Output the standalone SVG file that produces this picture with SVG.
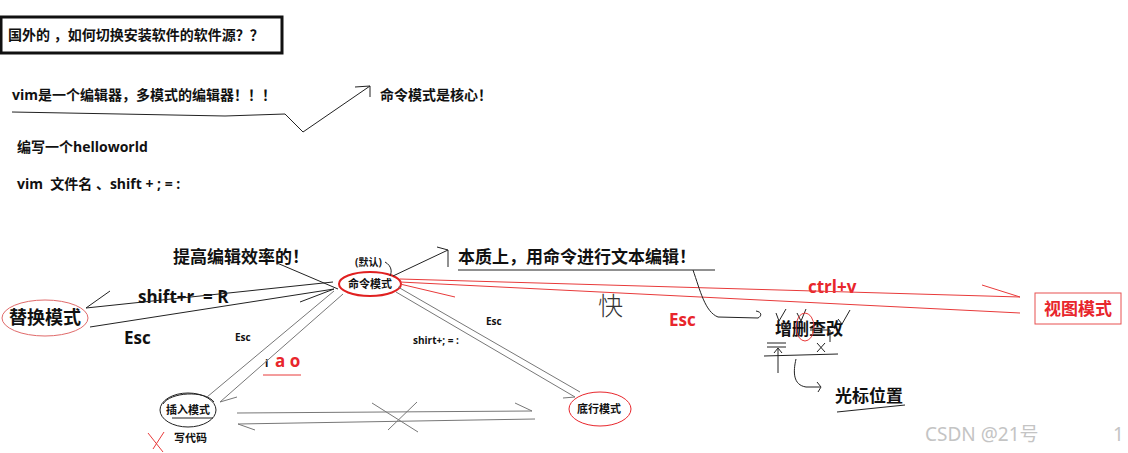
<svg xmlns="http://www.w3.org/2000/svg" width="1128" height="453" viewBox="0 0 1128 453">
<style>
.t{font-family:"Open Sans","Noto Sans CJK SC",sans-serif;font-weight:bold;fill:#111;white-space:pre}
.s{font-size:14px}
.m{font-size:17px}
.x{font-size:11px}
.r{fill:#e8262c}
.ln{fill:none;stroke:#222;stroke-width:1}
.g{fill:none;stroke:#777;stroke-width:1}
.rl{fill:none;stroke:#e83a3a;stroke-width:1}
.wm{font-family:"Noto Sans","Noto Sans CJK SC",sans-serif;font-size:19px;fill:#c4c4c4}
</style>
<rect width="1128" height="453" fill="#fff"/>

<g id="top-box">
<rect x="1" y="17" width="281" height="36" fill="none" stroke="#111" stroke-width="3"/>
<text class="t s" x="8" y="40" xml:space="preserve">国外的 ，如何切换安装软件的软件源？？</text>
</g>

<g id="vim-note">
<text class="t s" x="12" y="100">vim是一个编辑器，多模式的编辑器！！！</text>
</g>
<g id="core-note">
<text class="t s" x="380" y="100">命令模式是核心！</text>
</g>
<g id="hello">
<text class="t s" x="17" y="152">编写一个helloworld</text>
</g>
<g id="vim-cmd">
<text class="t s" x="17" y="189" xml:space="preserve">vim  文件名 、shift + ; = :</text>
</g>

<g id="efficiency"><text class="t m" x="173" y="263">提高编辑效率的！</text></g>
<g id="essence"><text class="t m" x="458" y="263">本质上，用命令进行文本编辑！</text></g>

<g id="cmd-mode">
<text class="t" x="355" y="266" font-size="10">(默认)</text>
<ellipse cx="370" cy="284" rx="31" ry="12" fill="none" stroke="#e02020" stroke-width="2"/>
<text class="t x" x="370" y="288" text-anchor="middle">命令模式</text>
</g>

<g id="replace-mode">
<ellipse cx="45" cy="318" rx="43" ry="18" fill="none" stroke="#e06a6a" stroke-width="1"/>
<text class="t" x="45" y="324" font-size="18" text-anchor="middle">替换模式</text>
</g>

<g id="insert-mode">
<ellipse cx="188" cy="410" rx="28" ry="17" fill="none" stroke="#222" stroke-width="1"/>
<path class="ln" d="M163,404 C170,392 205,390 214,402"/>
<text class="t x" x="188" y="414" text-anchor="middle">插入模式</text>
<path class="ln" d="M172,418 L213,418"/>
<text class="t x" x="174" y="442">写代码</text>
</g>

<g id="bottom-mode">
<ellipse cx="600" cy="409" rx="31" ry="17" fill="none" stroke="#e8262c" stroke-width="1"/>
<text class="t x" x="599" y="413" text-anchor="middle">底行模式</text>
</g>

<g id="visual-mode">
<rect x="1035" y="293" width="86" height="31" fill="none" stroke="#e85050" stroke-width="1"/>
<text class="t m r" x="1078" y="315" text-anchor="middle">视图模式</text>
</g>

<g id="crud"><text class="t m" x="775" y="335">增删查改</text></g>
<g id="cursor"><text class="t m" x="835" y="402">光标位置</text></g>

<g id="labels">
<text class="t m" x="138" y="303" xml:space="preserve">shift+r  = R</text>
<text class="t m" x="124" y="344">Esc</text>
<text class="t" x="235" y="341" font-size="10">Esc</text>
<text class="t" x="486" y="325" font-size="10">Esc</text>
<text class="t" x="413" y="344" font-size="10">shirt+; = :</text>
<text class="t" x="265" y="367" font-size="11">i</text>
<text class="t m r" x="275" y="367">a o</text>
<text class="t m r" x="808" y="293">ctrl+v</text>
<text class="t m r" x="669" y="326">Esc</text>
<text x="598" y="315" font-family="'Noto Sans CJK SC',sans-serif" font-size="25" font-weight="300" fill="#333">快</text>
</g>

<g id="connectors">
<path class="ln" d="M12,112 L120,114 L225,116 L285,114 L303,132 L370,86 M355,87 L370,86 L370,97"/>
<path class="ln" d="M393,276 L448,250 M437,247 L448,250 L448,267"/>
<path class="ln" d="M385,262 C392,266 392,272 390,276"/>
<path class="ln" d="M458,270 L715,270"/>
<path class="ln" d="M277,263 L338,289"/>
<path class="ln" d="M86,308 L333,282 M86,308 L110,291"/>
<path class="ln" d="M90,327 L334,289 M300,302 L334,289"/>
<path class="g" d="M334,291 L207,397 M343,294 L220,402 L237,397"/>
<path class="g" d="M398,287 L580,392 M396,292 L575,397 L563,398"/>
<path class="g" d="M237,413 L532,411 L515,403"/>
<path class="g" d="M535,419 L238,424 L255,430"/>
<path class="g" d="M372,403 L418,432 M417,402 L388,430"/>
<path class="rl" d="M400,279 L1020,297 M982,285 L1020,297"/>
<path class="rl" d="M400,282 L1020,313 M400,284 L455,297"/>
<path class="rl" d="M263,375 L301,375"/>
<path class="ln" d="M693,270 C700,290 705,312 718,317 L758,318 M756,311 C762,312 762,316 758,318"/>
<path class="ln" d="M764,356 L838,354 M767,343 L786,343 M767,347 L786,347 M778,373 L778,349 M774,353 L778,348 L782,353"/>
<path class="ln" d="M776,313 L779,321 L786,309 M797,313 L801,321 L806,309 M838,319 L842,324 L850,310"/>
<ellipse cx="805" cy="327" rx="9" ry="14" fill="none" stroke="#e83a3a" stroke-width="1"/>
<path class="ln" d="M817,343 L825,352 M825,343 L817,352 M810,330 L830,330 L830,342"/>
<path class="ln" d="M796,359 C793,372 793,385 806,387 L820,387 M817,382 L821,387 L818,392"/>
<path class="ln" d="M837,412 L905,405"/>
<path class="rl" d="M148,433 L163,452 M164,432 L153,449"/>
</g>

<g id="watermark">
<text class="wm" x="925" y="441">CSDN @21号</text>
<text class="wm" x="1113" y="441">1</text>
</g>
</svg>
